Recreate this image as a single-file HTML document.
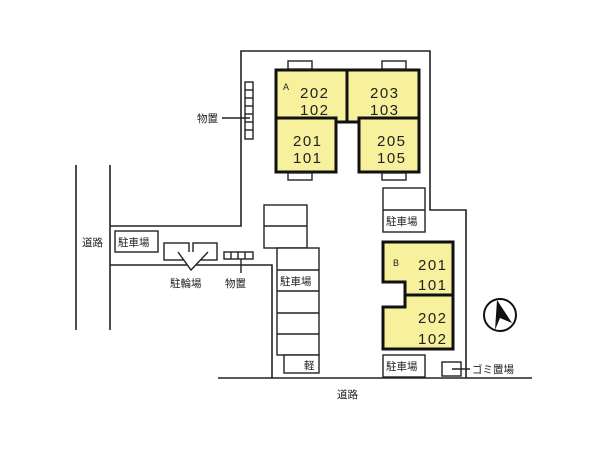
<!DOCTYPE html>
<html><head><meta charset="utf-8"><style>
html,body{margin:0;padding:0;background:#fff;width:600px;height:450px;overflow:hidden}
svg{display:block}
text{font-family:"Liberation Sans","Noto Sans CJK JP",sans-serif;fill:#222}
</style></head><body>
<svg width="600" height="450" viewBox="0 0 600 450" xmlns="http://www.w3.org/2000/svg">
<g fill="none" stroke="#222" stroke-width="1.6">
<line x1="76" y1="165" x2="76" y2="330"/>
<line x1="110" y1="165" x2="110" y2="330"/>
<line x1="218" y1="378" x2="532" y2="378"/>
<polyline points="110,226 241,226 241,51 430,51 430,210 466,210 466,378"/>
<polyline points="110,265 272,265 272,378"/>
</g>
<g stroke="#111" stroke-width="3" fill="#f7f09c">
<rect x="276" y="70" width="71" height="52"/>
<rect x="347" y="70" width="72" height="52"/>
<rect x="276" y="118" width="60" height="54"/>
<rect x="359" y="118" width="60" height="54"/>
<polygon points="383,242 453,242 453,349 383,349 383,307 405,307 405,282 383,282"/>
<line x1="405" y1="295" x2="453" y2="295"/>
</g>
<g fill="#fff" stroke="#222" stroke-width="1.4">
<rect x="288" y="61" width="24" height="8"/>
<rect x="382" y="61" width="24" height="8"/>
<rect x="288" y="173" width="24" height="7"/>
<rect x="382" y="173" width="24" height="7"/>
<rect x="245" y="82" width="8" height="57"/>
<line x1="245" y1="90" x2="253" y2="90"/><line x1="245" y1="98" x2="253" y2="98"/><line x1="245" y1="106" x2="253" y2="106"/><line x1="245" y1="114" x2="253" y2="114"/><line x1="245" y1="122" x2="253" y2="122"/><line x1="245" y1="130" x2="253" y2="130"/>
<line x1="222" y1="118" x2="250" y2="118"/>
<rect x="383" y="188" width="42" height="44"/>
<line x1="383" y1="210" x2="425" y2="210"/>
<rect x="383" y="355" width="42" height="22"/>
<rect x="442" y="362" width="19" height="14"/>
<line x1="452" y1="369" x2="470" y2="369"/>
<rect x="264" y="205" width="43" height="43"/>
<line x1="264" y1="226" x2="307" y2="226"/>
<rect x="277" y="248" width="42" height="107"/>
<line x1="277" y1="270" x2="319" y2="270"/><line x1="277" y1="291" x2="319" y2="291"/><line x1="277" y1="313" x2="319" y2="313"/><line x1="277" y1="334" x2="319" y2="334"/>
<rect x="284" y="355" width="35" height="18"/>
<rect x="115" y="231" width="43" height="21"/>
<rect x="164" y="243" width="25" height="17"/>
<rect x="193" y="243" width="24" height="17"/>
<polyline points="178,252 191,270 208,252"/>
<rect x="224" y="252" width="29" height="7"/>
<line x1="231" y1="252" x2="231" y2="259"/><line x1="238" y1="252" x2="238" y2="259"/><line x1="245" y1="252" x2="245" y2="259"/>
<line x1="241" y1="259" x2="241" y2="273"/>
</g>
<circle cx="500" cy="315" r="16" fill="#fff" stroke="#111" stroke-width="2"/>
<polygon points="497,300 512,323 500,318 495,330" fill="#111"/>
<g font-size="15" letter-spacing="1.5">
<text x="300" y="98">202</text><text x="300" y="115">102</text>
<text x="370" y="98">203</text><text x="370" y="115">103</text>
<text x="293" y="146">201</text><text x="293" y="163">101</text>
<text x="377" y="146">205</text><text x="377" y="163">105</text>
<text x="418" y="270">201</text><text x="418" y="290">101</text>
<text x="418" y="323">202</text><text x="418" y="344">102</text>
</g>
<g font-size="9"><text x="283" y="90">A</text><text x="393" y="266">B</text></g>
<g font-size="10.5">
<text x="197" y="122">物置</text>
<text x="82" y="246">道路</text>
<text x="118" y="246">駐車場</text>
<text x="170" y="287">駐輪場</text>
<text x="225" y="287">物置</text>
<text x="280" y="285">駐車場</text>
<text x="304" y="369">軽</text>
<text x="386" y="225">駐車場</text>
<text x="386" y="370">駐車場</text>
<text x="472" y="373">ゴミ置場</text>
<text x="337" y="398">道路</text>
</g>
</svg>
</body></html>
